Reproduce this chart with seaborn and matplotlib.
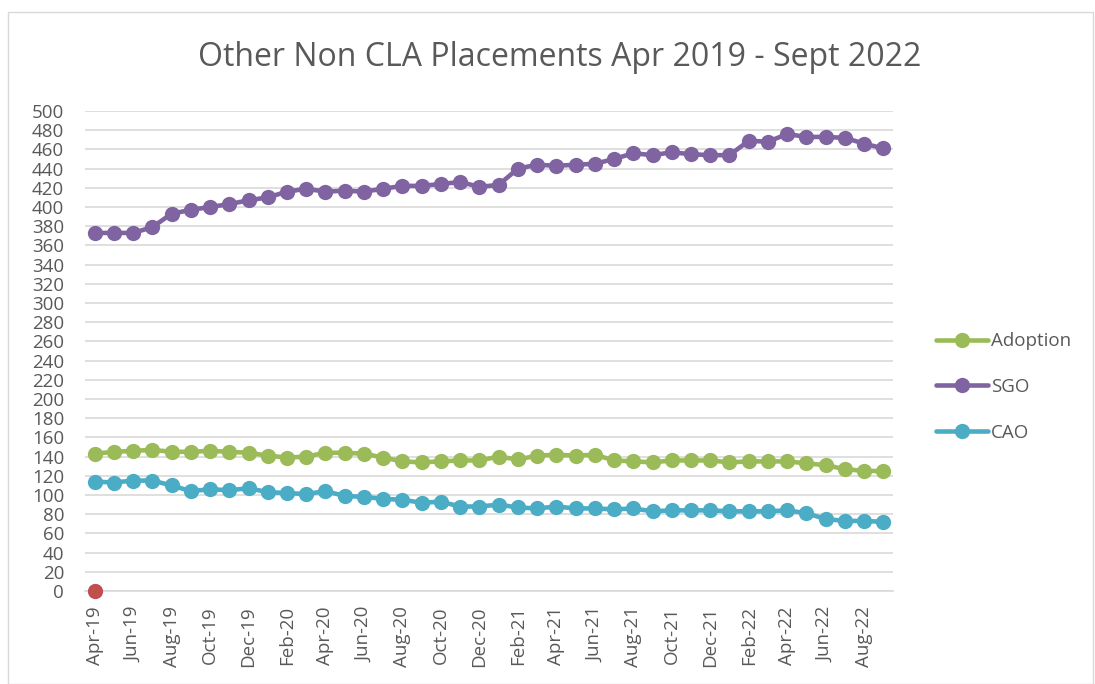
import numpy as np
import pandas as pd
import matplotlib
matplotlib.use('Agg')
import matplotlib.pyplot as plt
import seaborn as sns
from matplotlib.patches import Rectangle

# monthly values Apr-19 .. Sep-22
months = pd.date_range('2019-04-01', '2022-09-01', freq='MS').strftime('%b-%y').tolist()
adoption = [143, 145, 146, 147, 145, 145, 146, 145, 144, 141, 139, 140, 144, 144,
            143, 139, 135, 134, 135, 136, 136, 140, 137, 141, 142, 141, 142, 136,
            135, 134, 136, 136, 136, 134, 135, 135, 135, 133, 131, 127, 125, 125]
sgo = [373, 373, 373, 379, 393, 397, 400, 403, 407, 410, 416, 419, 416, 417,
       416, 419, 422, 422, 424, 426, 421, 423, 440, 444, 443, 444, 445, 450,
       456, 454, 457, 455, 454, 454, 469, 468, 476, 473, 473, 472, 466, 461]
cao = [114, 113, 115, 115, 110, 104, 106, 105, 107, 103, 102, 101, 104, 99,
       98, 96, 95, 92, 93, 88, 88, 90, 87, 86, 88, 86, 86, 85, 86, 83,
       84, 84, 84, 83, 83, 83, 84, 81, 75, 73, 73, 72]
other = [0]  # lone point at Apr-19

series = ['Adoption', 'SGO', 'CAO']
colors = {'Adoption': '#9BBB59', 'SGO': '#8064A2', 'CAO': '#4BACC6'}

df = pd.DataFrame({'idx': range(len(months)), 'month': months,
                   'Adoption': adoption, 'SGO': sgo, 'CAO': cao})
long = df.melt(id_vars=['idx', 'month'], value_vars=series,
               var_name='series', value_name='count')

sns.set_style('white')
plt.rcParams['font.family'] = ['Open Sans', 'DejaVu Sans']
txt = '#595959'

fig = plt.figure(figsize=(10.95, 6.84), dpi=100)
ax = fig.add_axes([85 / 1095, 93 / 684, 808 / 1095, 480 / 684])

sns.lineplot(data=long, x='idx', y='count', hue='series', hue_order=series,
             palette=colors, marker='o', markersize=11, markeredgewidth=0,
             linewidth=3.3, ax=ax, clip_on=False, zorder=3)
ax.plot(range(len(other)), other, 'o', color='#C0504D', markersize=11,
        markeredgewidth=0, clip_on=False, zorder=4)

ax.set_xlim(-0.5, len(months) - 0.5)
ax.set_ylim(0, 500)
ax.set_yticks(range(0, 501, 20))
ax.yaxis.grid(True, color='#d9d9d9', linewidth=1.2)
ax.set_xticks(range(0, len(months), 2))
ax.set_xticklabels(months[::2], rotation=90)
ax.set_xticks(np.arange(-0.5, len(months), 2), minor=True)
ax.tick_params(axis='y', length=0, pad=15, labelsize=13.5, labelcolor=txt)
ax.tick_params(axis='x', which='major', length=0, pad=11, labelsize=13.5, labelcolor=txt)
ax.tick_params(axis='x', which='minor', length=6, color='#d9d9d9', width=1.2)
for s in ['top', 'right', 'left']:
    ax.spines[s].set_visible(False)
ax.spines['bottom'].set_color('#d9d9d9')
ax.spines['bottom'].set_linewidth(1.2)
ax.set_xlabel('')
ax.set_ylabel('')

handles, labels = ax.get_legend_handles_labels()
ax.legend(handles, labels, loc='center left', frameon=False,
          bbox_to_anchor=(919 / 1095, 297 / 684), bbox_transform=fig.transFigure,
          fontsize=13.5, labelcolor=txt, handlelength=2.8, handletextpad=0.15,
          labelspacing=1.47)

fig.text(560 / 1095, 1 - 57 / 684, 'Other Non CLA Placements Apr 2019 - Sept 2022',
         ha='center', va='center', fontsize=23, color=txt)

fig.patches.append(Rectangle((8 / 1095, 0), 1 - 10 / 1095, 1 - 12 / 684,
                             transform=fig.transFigure, fill=False,
                             edgecolor='#d9d9d9', linewidth=1))

fig.savefig('out.png', dpi=100)
